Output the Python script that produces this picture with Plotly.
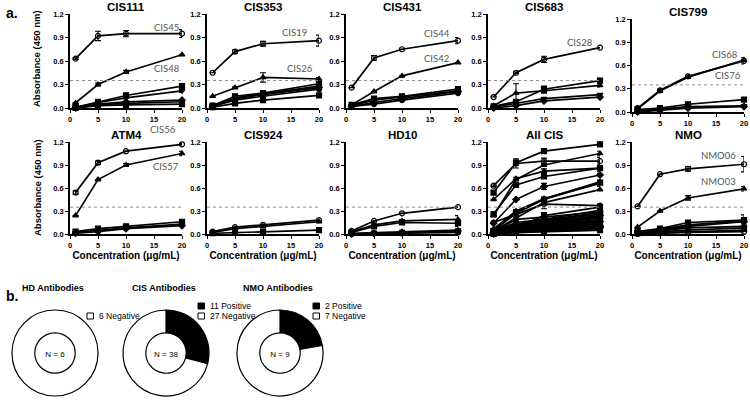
import plotly.graph_objects as go

# ---------------- data ----------------
CONC = [1, 5, 10, 20]
X_TICKS = [0, 5, 10, 15, 20]
Y_TICKS = [0.0, 0.3, 0.6, 0.9, 1.2]
Y_TICK_TEXT = ["0.0", "0.3", "0.6", "0.9", "1.2"]
Y_MAX = 1.2
THRESHOLD = 0.35

CIS111_NAMES = ["CIS45", "CIS48", "", "", "", "", ""]
CIS111_VALUES = [
    [0.63, 0.92, 0.95, 0.95],
    [0.065, 0.30, 0.46, 0.68],
    [0.01, 0.08, 0.16, 0.28],
    [0.01, 0.07, 0.13, 0.22],
    [0.00, 0.05, 0.08, 0.10],
    [0.00, 0.04, 0.06, 0.08],
    [0.00, 0.03, 0.04, 0.05],
]
CIS111_ERRORS = [
    [0.01, 0.06, 0.04, 0.05],
    [0.00, 0.02, 0.02, 0.00],
    [0.00, 0.00, 0.00, 0.03],
    [0.00, 0.00, 0.00, 0.02],
    [0.00, 0.00, 0.00, 0.00],
    [0.00, 0.00, 0.00, 0.00],
    [0.00, 0.00, 0.00, 0.00],
]

CIS353_NAMES = ["CIS19", "CIS26", "", "", "", "", ""]
CIS353_VALUES = [
    [0.45, 0.72, 0.82, 0.86],
    [0.15, 0.26, 0.39, 0.37],
    [0.03, 0.15, 0.19, 0.31],
    [0.03, 0.13, 0.18, 0.28],
    [0.02, 0.12, 0.17, 0.26],
    [0.02, 0.10, 0.15, 0.24],
    [0.01, 0.06, 0.10, 0.16],
]
CIS353_ERRORS = [
    [0.00, 0.02, 0.03, 0.07],
    [0.00, 0.01, 0.06, 0.02],
    [0.00, 0.00, 0.02, 0.02],
    [0.00, 0.00, 0.00, 0.02],
    [0.00, 0.00, 0.00, 0.00],
    [0.00, 0.00, 0.00, 0.00],
    [0.00, 0.00, 0.00, 0.00],
]

CIS431_NAMES = ["CIS44", "CIS42", "", "", "", ""]
CIS431_VALUES = [
    [0.26, 0.64, 0.75, 0.86],
    [0.04, 0.21, 0.41, 0.58],
    [0.04, 0.12, 0.15, 0.24],
    [0.03, 0.10, 0.14, 0.22],
    [0.02, 0.07, 0.12, 0.21],
    [0.02, 0.05, 0.10, 0.19],
]
CIS431_ERRORS = [
    [0.00, 0.03, 0.00, 0.04],
    [0.00, 0.00, 0.00, 0.00],
    [0.00, 0.00, 0.00, 0.00],
    [0.00, 0.00, 0.00, 0.00],
    [0.00, 0.00, 0.00, 0.00],
    [0.00, 0.00, 0.00, 0.00],
]

CIS683_NAMES = ["CIS28", "", "", "", ""]
CIS683_VALUES = [
    [0.14, 0.45, 0.62, 0.77],
    [0.03, 0.19, 0.22, 0.29],
    [0.02, 0.08, 0.24, 0.35],
    [0.01, 0.06, 0.12, 0.17],
    [0.00, 0.03, 0.09, 0.14],
]
CIS683_ERRORS = [
    [0.00, 0.01, 0.04, 0.00],
    [0.00, 0.12, 0.03, 0.02],
    [0.00, 0.00, 0.04, 0.03],
    [0.00, 0.00, 0.00, 0.00],
    [0.00, 0.00, 0.00, 0.00],
]

CIS799_NAMES = ["CIS68", "CIS76", "", "", ""]
CIS799_VALUES = [
    [0.05, 0.28, 0.46, 0.66],
    [0.04, 0.27, 0.45, 0.67],
    [0.03, 0.05, 0.10, 0.16],
    [0.01, 0.04, 0.07, 0.08],
    [0.00, 0.02, 0.05, 0.07],
]
CIS799_ERRORS = [
    [0.02, 0.01, 0.00, 0.04],
    [0.00, 0.00, 0.00, 0.00],
    [0.00, 0.00, 0.02, 0.00],
    [0.00, 0.00, 0.00, 0.00],
    [0.00, 0.00, 0.00, 0.00],
]

ATM4_NAMES = ["CIS56", "CIS57", "", "", ""]
ATM4_VALUES = [
    [0.54, 0.93, 1.08, 1.17],
    [0.24, 0.71, 0.90, 1.05],
    [0.03, 0.07, 0.10, 0.16],
    [0.02, 0.05, 0.08, 0.13],
    [0.01, 0.03, 0.07, 0.11],
]
ATM4_ERRORS = [
    [0.02, 0.02, 0.00, 0.01],
    [0.00, 0.00, 0.02, 0.03],
    [0.00, 0.00, 0.00, 0.00],
    [0.00, 0.00, 0.00, 0.00],
    [0.00, 0.00, 0.00, 0.00],
]

CIS924_NAMES = ["", "", ""]
CIS924_VALUES = [
    [0.03, 0.09, 0.12, 0.18],
    [0.02, 0.07, 0.10, 0.16],
    [0.01, 0.02, 0.03, 0.05],
]
CIS924_ERRORS = [
    [0.00, 0.00, 0.00, 0.00],
    [0.00, 0.00, 0.00, 0.00],
    [0.00, 0.00, 0.00, 0.00],
]

HD10_NAMES = ["", "", "", "", "", ""]
HD10_VALUES = [
    [0.04, 0.17, 0.27, 0.35],
    [0.03, 0.12, 0.17, 0.19],
    [0.02, 0.10, 0.15, 0.14],
    [0.01, 0.02, 0.03, 0.05],
    [0.00, 0.01, 0.02, 0.04],
    [0.00, 0.01, 0.01, 0.02],
]
HD10_ERRORS = [
    [0.00, 0.00, 0.00, 0.00],
    [0.00, 0.00, 0.02, 0.05],
    [0.00, 0.00, 0.00, 0.04],
    [0.00, 0.00, 0.00, 0.00],
    [0.00, 0.00, 0.00, 0.00],
    [0.00, 0.00, 0.00, 0.00],
]

NMO_NAMES = ["NMO06", "NMO03", "", "", "", "", "", "", ""]
NMO_VALUES = [
    [0.36, 0.78, 0.85, 0.91],
    [0.09, 0.30, 0.47, 0.59],
    [0.03, 0.07, 0.15, 0.18],
    [0.03, 0.06, 0.12, 0.17],
    [0.02, 0.05, 0.10, 0.16],
    [0.02, 0.04, 0.08, 0.10],
    [0.01, 0.03, 0.05, 0.08],
    [0.01, 0.02, 0.03, 0.05],
    [0.00, 0.01, 0.02, 0.03],
]
NMO_ERRORS = [
    [0.00, 0.00, 0.03, 0.10],
    [0.00, 0.00, 0.03, 0.03],
    [0.00, 0.00, 0.00, 0.07],
    [0.00, 0.00, 0.00, 0.03],
    [0.00, 0.00, 0.00, 0.00],
    [0.00, 0.00, 0.00, 0.00],
    [0.00, 0.00, 0.00, 0.00],
    [0.00, 0.00, 0.00, 0.00],
    [0.00, 0.00, 0.00, 0.00],
]

ALLCIS_VALUES = (CIS111_VALUES + CIS353_VALUES + CIS431_VALUES + CIS683_VALUES
                 + CIS799_VALUES + ATM4_VALUES + CIS924_VALUES)
ALLCIS_ERRORS = (CIS111_ERRORS + CIS353_ERRORS + CIS431_ERRORS + CIS683_ERRORS
                 + CIS799_ERRORS + ATM4_ERRORS + CIS924_ERRORS)
ALLCIS_NAMES = [""] * len(ALLCIS_VALUES)

PANEL_TITLES = ["CIS111", "CIS353", "CIS431", "CIS683", "CIS799",
                "ATM4", "CIS924", "HD10", "All CIS", "NMO"]
PANEL_VALUES = [CIS111_VALUES, CIS353_VALUES, CIS431_VALUES, CIS683_VALUES, CIS799_VALUES,
                ATM4_VALUES, CIS924_VALUES, HD10_VALUES, ALLCIS_VALUES, NMO_VALUES]
PANEL_ERRORS = [CIS111_ERRORS, CIS353_ERRORS, CIS431_ERRORS, CIS683_ERRORS, CIS799_ERRORS,
                ATM4_ERRORS, CIS924_ERRORS, HD10_ERRORS, ALLCIS_ERRORS, NMO_ERRORS]
PANEL_NAMES = [CIS111_NAMES, CIS353_NAMES, CIS431_NAMES, CIS683_NAMES, CIS799_NAMES,
               ATM4_NAMES, CIS924_NAMES, HD10_NAMES, ALLCIS_NAMES, NMO_NAMES]

PIE_TITLES = ["HD Antibodies", "CIS Antibodies", "NMO Antibodies"]
PIE_LABELS = [["Negative"], ["Positive", "Negative"], ["Positive", "Negative"]]
HD_COUNTS = [6]
CIS_COUNTS = [11, 27]
NMO_COUNTS = [2, 7]
PIE_COUNTS = [HD_COUNTS, CIS_COUNTS, NMO_COUNTS]

# ---------------- layout helpers ----------------
W, H = 750, 409


def px_x(p):
    return p / W


def px_y(p):
    return 1 - p / H


PANEL_X0 = [70, 207, 346, 488, 632, 70, 207, 346, 488, 632]
PANEL_W = 112
PANEL_TOP = [14, 14, 14, 14, 19, 142, 142, 142, 142, 142]
PANEL_BOT = [108, 108, 108, 108, 112, 234, 234, 234, 234, 234]

# label placement for the named curves (x in data units, y in absorbance units)
LABEL_POS = {
    "CIS45": (17.2, 1.03), "CIS48": (17.4, 0.50),
    "CIS19": (15.6, 0.97), "CIS26": (16.6, 0.50),
    "CIS44": (16.2, 0.95), "CIS42": (16.2, 0.63),
    "CIS28": (16.4, 0.83),
    "CIS68": (16.6, 0.74), "CIS76": (17.2, 0.47),
    "CIS56": (16.6, 1.36), "CIS57": (17.2, 0.88),
    "NMO06": (15.4, 1.03), "NMO03": (15.4, 0.68),
}

SYMBOLS = ["circle-open", "triangle-up", "square", "triangle-down", "diamond",
           "circle", "square", "triangle-up"]

FONT = "Liberation Sans, Arial, sans-serif"
LABEL_FONT = "Lato, Liberation Sans, sans-serif"
NARROW = "Liberation Sans Narrow, Liberation Sans, Arial, sans-serif"

fig = go.Figure()
annotations = []
shapes = []
layout_axes = {}

for i in range(10):
    n = i + 1
    xa = "x" if n == 1 else f"x{n}"
    ya = "y" if n == 1 else f"y{n}"
    for j, vals in enumerate(PANEL_VALUES[i]):
        err = PANEL_ERRORS[i][j]
        fig.add_trace(go.Scatter(
            x=CONC, y=vals, xaxis=xa, yaxis=ya, mode="lines+markers",
            line=dict(color="black", width=1.7),
            marker=dict(symbol=SYMBOLS[j % len(SYMBOLS)], size=5, color="black",
                        line=dict(color="black", width=1.2)),
            error_y=dict(type="data", array=err, visible=True, color="black",
                         thickness=1.1, width=3),
            cliponaxis=False, showlegend=False,
            name=PANEL_NAMES[i][j] or f"{PANEL_TITLES[i]} #{j + 1}",
        ))
        name = PANEL_NAMES[i][j]
        if name:
            lx, ly = LABEL_POS[name]
            annotations.append(dict(
                x=lx, y=ly / Y_MAX, xref=xa, yref=f"{ya} domain", text=name,
                showarrow=False,
                font=dict(family=LABEL_FONT, size=9.5, color="#555555"),
                xanchor="center", yanchor="middle"))

    row2 = i >= 5
    layout_axes[f"xaxis{'' if n == 1 else n}"] = dict(
        domain=[px_x(PANEL_X0[i]), px_x(PANEL_X0[i] + PANEL_W)],
        anchor=ya, range=[0, 20], tickvals=X_TICKS, ticks="outside", ticklen=3,
        tickwidth=1.2, tickcolor="black", showline=True, linecolor="black", linewidth=1.5,
        showgrid=False, zeroline=False, automargin=False,
        tickfont=dict(family=FONT, size=7.5, color="black", weight="bold"),
        title=dict(text="Concentration (μg/mL)" if row2 else "",
                   font=dict(family=FONT, size=10, color="black", weight="bold"),
                   standoff=3),
    )
    layout_axes[f"yaxis{'' if n == 1 else n}"] = dict(
        domain=[px_y(PANEL_BOT[i]), px_y(PANEL_TOP[i])],
        anchor=xa, range=[0, Y_MAX], tickvals=Y_TICKS, ticktext=Y_TICK_TEXT,
        ticks="outside", ticklen=3, tickwidth=1.2, tickcolor="black",
        showline=True, linecolor="black", linewidth=1.5, showgrid=False, zeroline=False,
        automargin=False,
        tickfont=dict(family=FONT, size=7.5, color="black", weight="bold"),
    )
    shapes.append(dict(type="line", xref=xa, yref=ya, x0=0, x1=20,
                       y0=THRESHOLD, y1=THRESHOLD,
                       line=dict(color="#8a8a8a", width=1, dash="dot")))
    annotations.append(dict(
        x=px_x(PANEL_X0[i] + PANEL_W / 2), y=px_y(PANEL_TOP[i] - 7),
        xref="paper", yref="paper", text=f"<b>{PANEL_TITLES[i]}</b>", showarrow=False,
        font=dict(family=FONT, size=11.5, color="black"),
        xanchor="center", yanchor="middle"))

for cy in [59, 188]:
    annotations.append(dict(
        x=px_x(37), y=px_y(cy), xref="paper", yref="paper",
        text="<b>Absorbance (450 nm)</b>", showarrow=False, textangle=-90,
        font=dict(family=FONT, size=9.5, color="black"),
        xanchor="center", yanchor="middle"))

annotations.append(dict(x=px_x(4), y=px_y(13), xref="paper", yref="paper",
                        text="<b>a.</b>", showarrow=False,
                        font=dict(family=FONT, size=14, color="black"),
                        xanchor="left", yanchor="middle"))
annotations.append(dict(x=px_x(4), y=px_y(296), xref="paper", yref="paper",
                        text="<b>b.</b>", showarrow=False,
                        font=dict(family=FONT, size=14, color="black"),
                        xanchor="left", yanchor="middle"))

PIE_CX = [55, 166, 280]
PIE_CY = 353
PIE_R = 43
LEGEND_X = [87, 198, 313]
COLOR_MAP = {"Positive": "black", "Negative": "white"}

for k in range(3):
    counts = PIE_COUNTS[k]
    labels = [f"{c} {l}" for c, l in zip(counts, PIE_LABELS[k])]
    fig.add_trace(go.Pie(
        labels=labels, values=counts, hole=0.47, sort=False, direction="clockwise",
        rotation=0, textinfo="none", hoverinfo="label+percent",
        marker=dict(colors=[COLOR_MAP[l] for l in PIE_LABELS[k]],
                    line=dict(color="black", width=1.2)),
        domain=dict(x=[px_x(PIE_CX[k] - PIE_R), px_x(PIE_CX[k] + PIE_R)],
                    y=[px_y(PIE_CY + PIE_R), px_y(PIE_CY - PIE_R)]),
        title=dict(text=f"N = {sum(counts)}", position="middle center",
                   font=dict(family=NARROW, size=8, color="black")),
        showlegend=False,
    ))
    annotations.append(dict(
        x=px_x(PIE_CX[k] - 2), y=px_y(288), xref="paper", yref="paper",
        text=f"<b>{PIE_TITLES[k]}</b>", showarrow=False,
        font=dict(family=NARROW, size=9, color="black"),
        xanchor="center", yanchor="middle"))
    n_items = len(labels)
    for m, lab in enumerate(labels):
        cy = 316 - (n_items - 1 - m) * 10
        shapes.append(dict(type="rect", xref="paper", yref="paper",
                           x0=px_x(LEGEND_X[k]), x1=px_x(LEGEND_X[k] + 6.5),
                           y0=px_y(cy + 3), y1=px_y(cy - 3),
                           fillcolor=COLOR_MAP[PIE_LABELS[k][m]],
                           line=dict(color="black", width=1)))
        annotations.append(dict(
            x=px_x(LEGEND_X[k] + 10), y=px_y(cy), xref="paper", yref="paper",
            text=lab, showarrow=False,
            font=dict(family=NARROW, size=8.5, color="black"),
            xanchor="left", yanchor="middle"))

fig.update_layout(
    width=W, height=H, margin=dict(l=0, r=0, t=0, b=0, autoexpand=False),
    paper_bgcolor="white", plot_bgcolor="white",
    annotations=annotations, shapes=shapes, showlegend=False,
    **layout_axes,
)

# remove the page's default body margin so the figure sits at the window origin
fig.write_html("out.html", config={"displayModeBar": False},
               post_script="document.body.style.margin='0px';")
